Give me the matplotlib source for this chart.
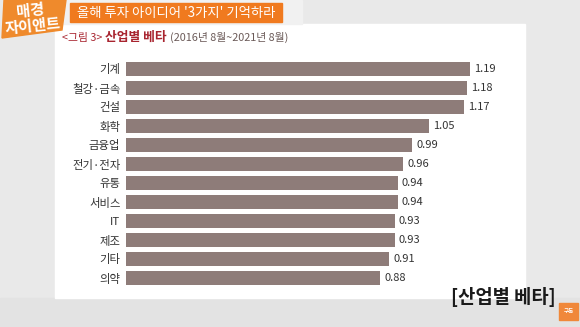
import matplotlib
matplotlib.use("Agg")
import matplotlib.pyplot as plt
from matplotlib.patches import Rectangle, Polygon

plt.rcParams['font.family'] = ['Noto Sans CJK KR', 'DejaVu Sans']

industries = ['기계', '철강·금속', '건설', '화학', '금융업', '전기·전자',
              '유통', '서비스', 'IT', '제조', '기타', '의약']
betas = [1.19, 1.18, 1.17, 1.05, 0.99, 0.96, 0.94, 0.94, 0.93, 0.93, 0.91, 0.88]

header = "올해 투자 아이디어 '3가지' 기억하라"
fig_no = "<그림 3>"
fig_title = "산업별 베타"
period = "(2016년 8월~2021년 8월)"
caption = "[산업별 베타]"

W, H = 580, 327
fig = plt.figure(figsize=(W / 100, H / 100), dpi=100)

# background layer in pixel coordinates
bg = fig.add_axes([0, 0, 1, 1])
bg.set_xlim(0, W)
bg.set_ylim(H, 0)
bg.axis('off')
bg.add_patch(Rectangle((0, 0), W, H, color='#e9e9e9'))
bg.add_patch(Rectangle((0, 298), W, 29, color='#e3e3e3'))
bg.add_patch(Rectangle((55, 24), 470, 274, color='white'))
bg.add_patch(Rectangle((62, 0), 240, 24, color='#f1f1f1'))

# channel logo
bg.add_patch(Polygon([(4, 0), (66, 0), (62, 30), (2, 38)], closed=True,
                     color='#ef8a2c'))
bg.text(30, 10, "매경", color='white', fontsize=11, fontweight='bold',
        ha='center', va='center', rotation=6)
bg.text(33, 26, "자이앤트", color='white', fontsize=11, fontweight='bold',
        ha='center', va='center', rotation=6)

# header bar
bg.add_patch(Rectangle((70, 3), 212, 19, color='#f07a1f'))
bg.text(176, 12.5, header, color='white', fontsize=9.6, ha='center', va='center')

# chart title, drawn piece by piece
fig.canvas.draw()
r = fig.canvas.get_renderer()
x = 62
for txt, col, fs, fw in [(fig_no, '#a8242f', 7.8, 'normal'),
                         (fig_title, '#a8242f', 9.2, 'bold'),
                         (period, '#6b5a58', 7.8, 'normal')]:
    t = bg.text(x, 41, txt, color=col, fontsize=fs, fontweight=fw,
                ha='left', va='baseline')
    bb = t.get_window_extent(renderer=r)
    x += bb.width + 3

# bar chart area: x=0 at px 126, 289 px per unit, rows 19 px apart
x0, scale = 126, 289
row0, step = 69, 19
xmax = 1.4
top = row0 - step / 2
bottom = row0 + step * (len(betas) - 1) + step / 2
ax = fig.add_axes([x0 / W, 1 - bottom / H, xmax * scale / W, (bottom - top) / H])
ax.patch.set_alpha(0)
ypos = list(range(len(betas)))
ax.barh(ypos, betas, height=0.7, color='#8e7c79')
ax.set_xlim(0, xmax)
ax.set_ylim(len(betas) - 0.5, -0.5)
ax.set_yticks(ypos)
ax.set_yticklabels(industries, fontsize=8.2, color='#333333')
ax.tick_params(axis='y', length=0, pad=4)
ax.set_xticks([])
for s in ax.spines.values():
    s.set_visible(False)
for yi, v in zip(ypos, betas):
    ax.text(v + 0.014, yi, f"{v:.2f}", fontsize=8, color='#333333',
            ha='left', va='center')

# overlay caption and subscribe button
ov = fig.add_axes([0, 0, 1, 1])
ov.set_xlim(0, W)
ov.set_ylim(H, 0)
ov.axis('off')
ov.patch.set_alpha(0)
ov.text(503, 297, caption, fontsize=13.5, fontweight='bold', color='#1a1a1a',
        ha='center', va='center')
ov.add_patch(Rectangle((559, 303), 19, 17, color='#f0883a'))
ov.text(568.5, 311.5, "구독", fontsize=4, color='white', ha='center', va='center',
        fontweight='bold')

fig.savefig('out.png', dpi=100)
